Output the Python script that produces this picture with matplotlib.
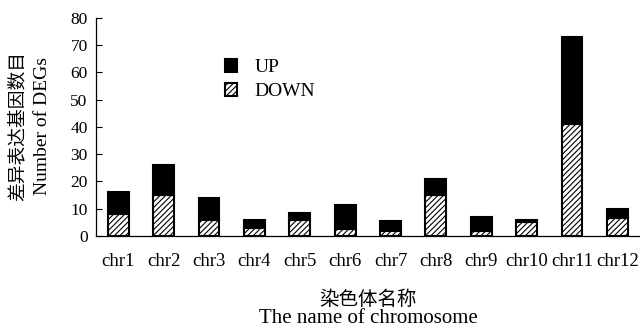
import matplotlib
matplotlib.use("Agg")
import matplotlib.pyplot as plt
import numpy as np

plt.rcParams['font.family'] = ['Liberation Serif', 'Noto Sans CJK SC']
plt.rcParams['hatch.linewidth'] = 0.8

chromosomes = ['chr1', 'chr2', 'chr3', 'chr4', 'chr5', 'chr6',
               'chr7', 'chr8', 'chr9', 'chr10', 'chr11', 'chr12']
down = [8, 15, 6, 3, 6, 2.5, 2, 15, 2, 5, 41, 6.5]
up = [8, 11, 8, 3, 2.5, 9, 3.5, 6, 5, 1, 32, 3.5]

fig = plt.figure(figsize=(6.4, 3.27), dpi=100)
ax = fig.add_axes([0.1500, 0.2783, 0.8500, 0.667])

x = np.arange(len(chromosomes))
width = 0.46
ax.bar(x, down, width, color='white', edgecolor='black', hatch='//////',
       linewidth=1.5, label='DOWN')
ax.bar(x, up, width, bottom=down, color='black', edgecolor='black',
       linewidth=1.5, label='UP')

ax.set_xlim(-0.49, 11.5)
ax.set_ylim(0, 80)
ax.set_yticks(range(0, 81, 10))
ax.set_xticks(x)
ax.set_xticklabels(chromosomes)
ax.tick_params(axis='y', direction='in', length=4, width=0.8, labelsize=12.5, pad=6)
ax.tick_params(axis='x', length=0, labelsize=13.5, pad=12)
for side in ('top', 'right'):
    ax.spines[side].set_visible(False)
for side in ('left', 'bottom'):
    ax.spines[side].set_linewidth(0.9)

handles, labels = ax.get_legend_handles_labels()
ax.legend(handles[::-1], labels[::-1], loc='upper left',
          bbox_to_anchor=(0.205, 0.89), frameon=False, fontsize=14,
          handlelength=0.6, handleheight=0.6, handletextpad=0.9,
          labelspacing=0.35)

# two-line axis titles, Chinese above English
fig.text(0.028, 0.615, '差异表达基因数目', rotation=90, ha='center', va='center',
         fontsize=13.5)
fig.text(0.066, 0.615, 'Number of DEGs', rotation=90, ha='center', va='center',
         fontsize=14)
fig.text(0.575, 0.082, '染色体名称', ha='center', va='center', fontsize=14)
fig.text(0.575, 0.027, 'The name of chromosome', ha='center', va='center',
         fontsize=15)

fig.savefig('out.png', dpi=100)
